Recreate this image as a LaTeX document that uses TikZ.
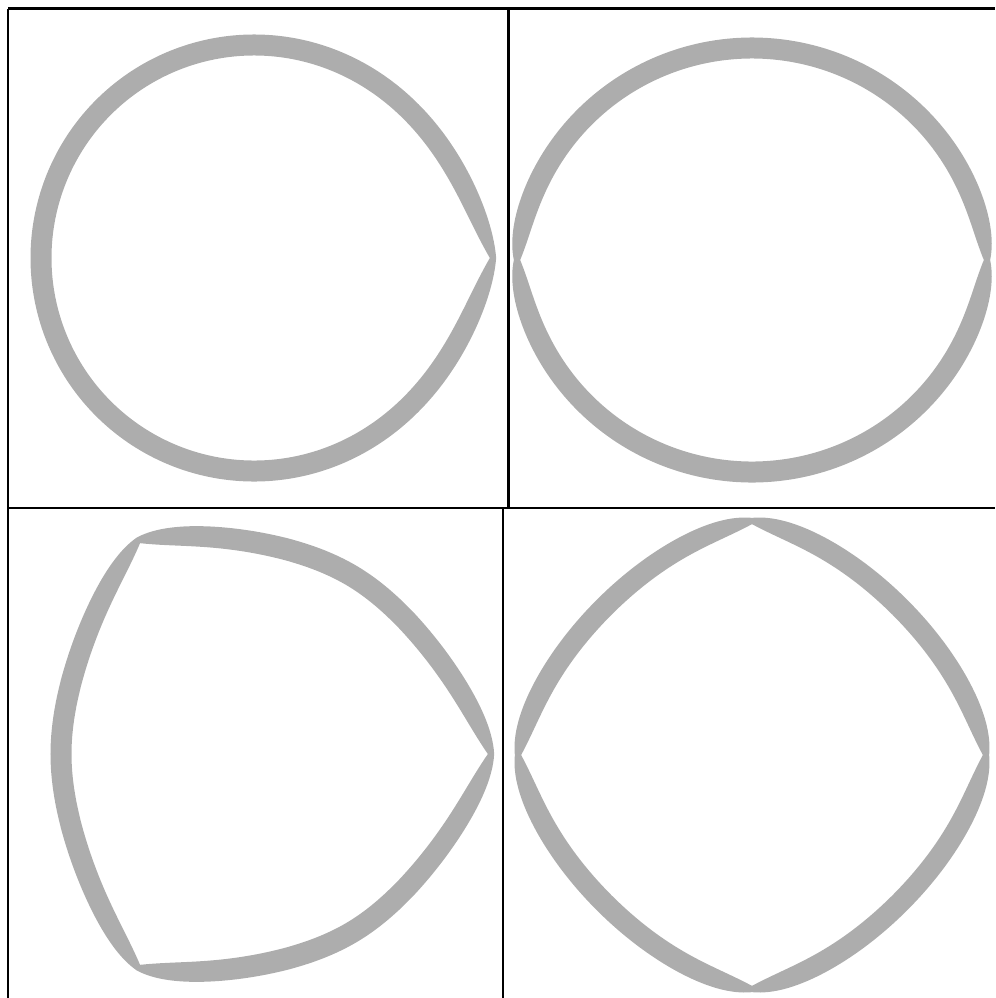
\documentclass[tikz,border=0pt]{standalone}
\begin{document}
\begin{tikzpicture}[x=0.02cm,y=-0.02cm,
  frame/.style={line width=1.3pt,black},
  band/.style={fill=black!32,draw=none,even odd rule}]
  \useasboundingbox (0,0) rectangle (995,998);
  % panel frame
  \draw[frame] (8,8.5) -- (995,8.5);
  \draw[frame] (8,8.5) -- (8,998);
  \draw[frame] (7,508) -- (995,508);
  \draw[frame] (508.5,8.5) -- (508.5,508);
  \draw[frame] (503,508) -- (503,998);
  % cusped rings: centre, cusps, mid radius, cusp lift, corner, pinch, stretch
  \foreach \cx/\cy/\n/\R/\a/\k/\m/\s in {254/258/1/213/26/6/16/1, 752/260/2/212/23/1/10/1,
      256/754/3/195/40/1.5/7/1.05, 752/755/4/209/25/1/5/1}{
    \fill[band,
      declare function={
        dip(\t)=max(0.001,1-abs(sin(\n*\t/2)));
        mid(\t)=\R+\a*pow(dip(\t),\k);
        half(\t)=10.5*(1-0.7*pow(dip(\t),\m));}]
      plot[domain=0:360,samples=361] ({\cx+(mid(\x)+half(\x))*cos(\x)},{\cy+\s*(mid(\x)+half(\x))*sin(\x)}) -- cycle
      plot[domain=0:360,samples=361] ({\cx+(mid(\x)-half(\x))*cos(\x)},{\cy+\s*(mid(\x)-half(\x))*sin(\x)}) -- cycle;
  }
\end{tikzpicture}
\end{document}
